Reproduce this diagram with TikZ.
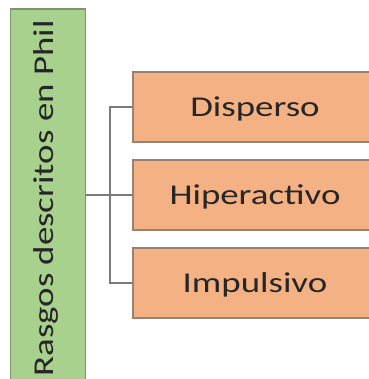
\documentclass[tikz,border=0pt]{standalone}
\usepackage{fontspec}
\setmainfont{Carlito}[FakeStretch=1.285]
\definecolor{gfill}{HTML}{A9D18E}
\definecolor{gdraw}{HTML}{7F9570}
\definecolor{ofill}{HTML}{F4B183}
\definecolor{odraw}{HTML}{9A8272}
\definecolor{lnk}{HTML}{7A7A7A}
\definecolor{txt}{HTML}{262626}
\tikzset{
  gbox/.style={draw=gdraw, fill=gfill, line width=1.2pt, rectangle, minimum width=75pt, minimum height=376pt, inner sep=0pt},
  gtext/.style={rotate=90, anchor=base, inner sep=0pt, text=txt, font=\fontsize{28.7}{34}\selectfont},
  obox/.style={draw=odraw, fill=ofill, line width=1.2pt, rectangle, minimum width=244pt, minimum height=70pt, inner sep=0pt,
    text height=18.5pt, text depth=0pt, text=txt, font=\fontsize{28.7}{34}\selectfont},
  link/.style={draw=lnk, line width=1.3pt}
}
\begin{document}
\begin{tikzpicture}[x=1pt,y=-1pt]
\useasboundingbox (0,0) rectangle (368,379);
\fill[white] (0,0) rectangle (368,379);
\node[gbox] (g) at (48,197) {};
\node[gtext] (gt) at (53.5,198.5) {Rasgos descritos en Phil};
\node[obox] (b1) at (255,107) {Disperso};
\node[obox] (b2) at (255,195) {Hiperactivo};
\node[obox] (b3) at (255,283) {Impulsivo};
\coordinate (j) at (110,195);
\draw[link] (b1.west) -| (j) |- (b3.west);
\draw[link] (g.east |- b2.west) -- (b2.west);
\end{tikzpicture}
\end{document}
